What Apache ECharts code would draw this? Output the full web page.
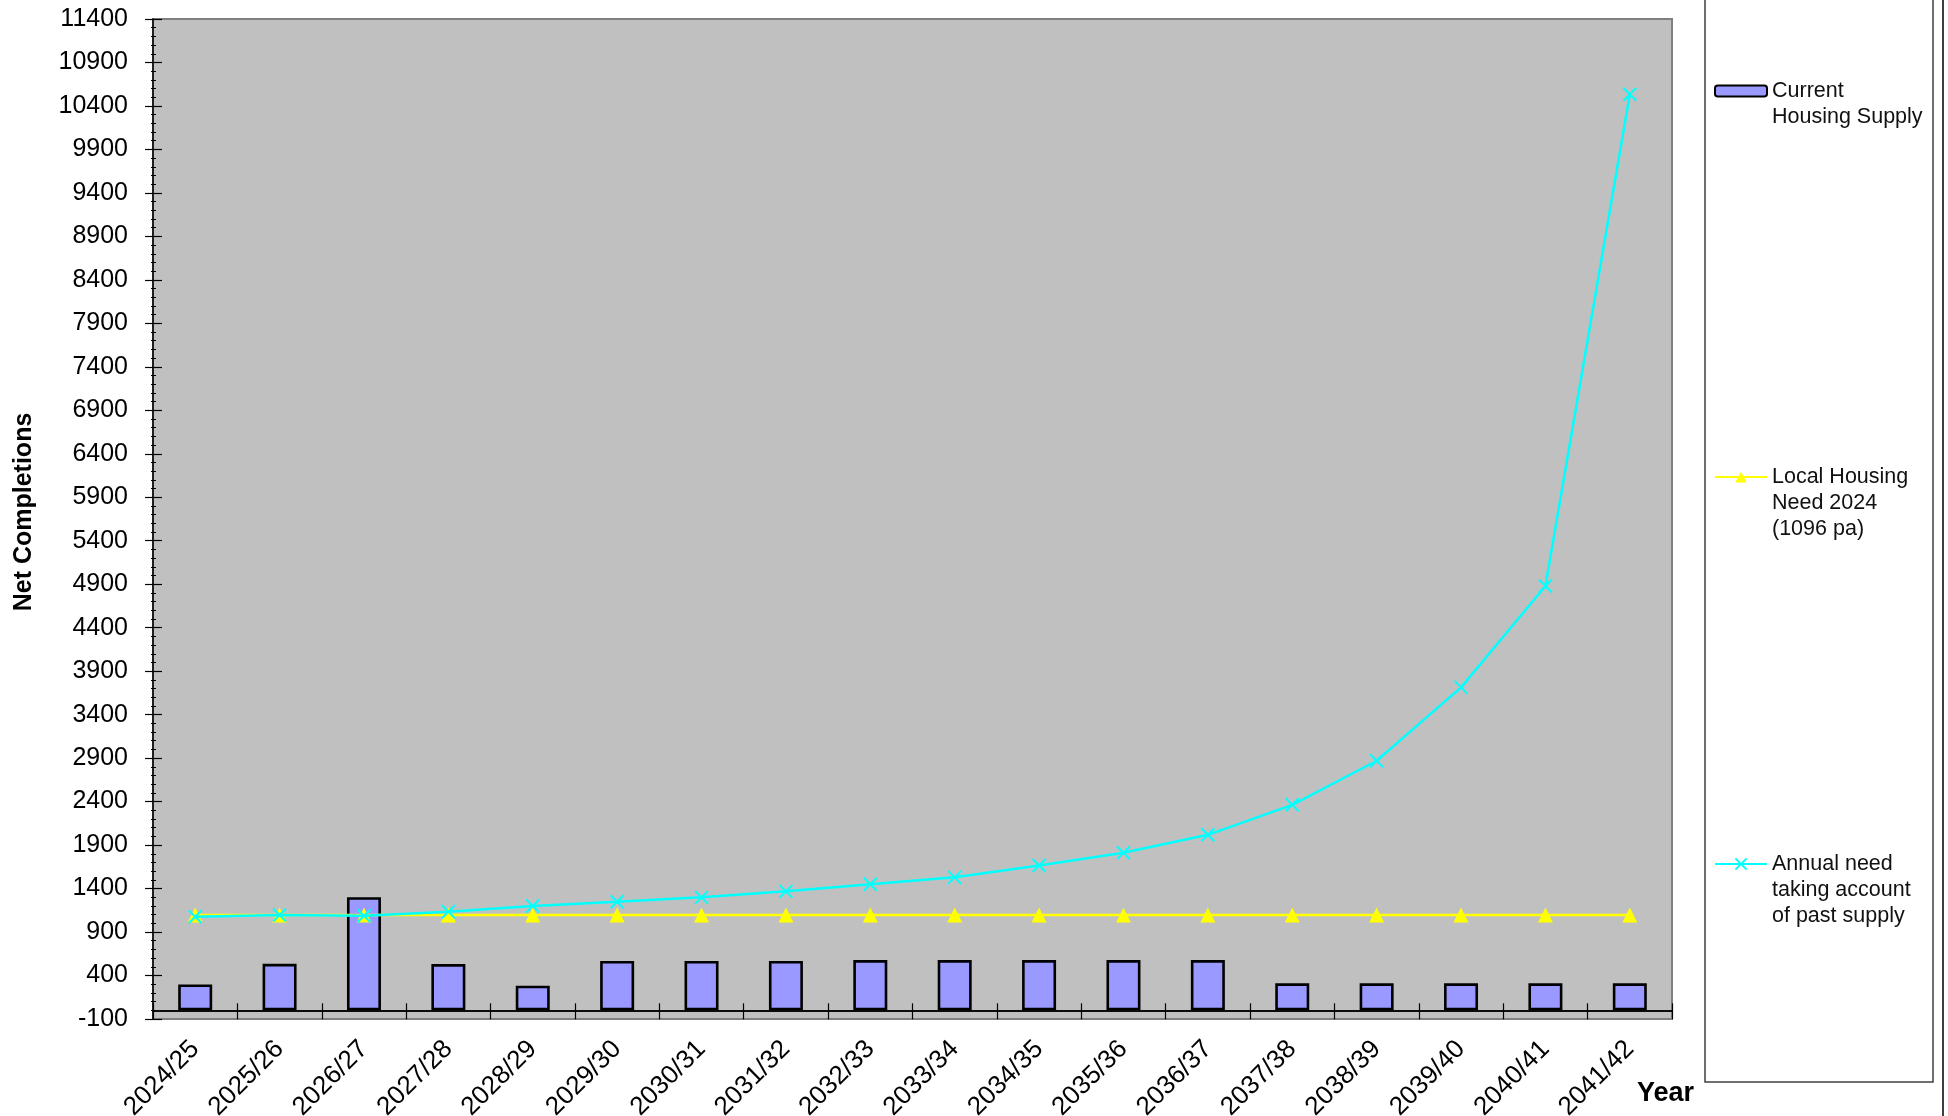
<!DOCTYPE html>
<html>
<head>
<meta charset="utf-8">
<title>Net Completions</title>
<script src="https://cdn.jsdelivr.net/npm/echarts@6/dist/echarts.min.js"></script>
<style>
  html, body { margin: 0; padding: 0; background: #ffffff; }
  #chart { width: 1948px; height: 1116px; }
</style>
</head>
<body>
<div id="chart"></div>
<script>
// Financial years on the category axis
const years = ['2024/25', '2025/26', '2026/27', '2027/28', '2028/29', '2029/30',
  '2030/31', '2031/32', '2032/33', '2033/34', '2034/35', '2035/36',
  '2036/37', '2037/38', '2038/39', '2039/40', '2040/41', '2041/42'];

// Net completions from the current housing supply
const currentSupply = [297, 535, 1300, 532, 283, 567, 567, 567, 578, 578,
  578, 578, 578, 310, 310, 310, 310, 310];

// Local housing need, flat 1096 per annum
const localNeed = [1096, 1096, 1096, 1096, 1096, 1096, 1096, 1096, 1096,
  1096, 1096, 1096, 1096, 1096, 1096, 1096, 1096, 1096];

// Annual requirement after allowing for supply already delivered
const annualNeed = [1076, 1096, 1088, 1134, 1199, 1249, 1299, 1368, 1449,
  1529, 1665, 1812, 2018, 2363, 2870, 3714, 4880, 10534];

// Value axis range and step
const yMin = -100;
const yMax = 11400;
const yStep = 500;

// Series names and the wrapped text shown in the key
const seriesNames = [
  'Current Housing Supply',
  'Local Housing Need 2024 (1096 pa)',
  'Annual need taking account of past supply'
];
const keyText = {
  'Current Housing Supply': '\nCurrent\nHousing Supply',
  'Local Housing Need 2024 (1096 pa)': '\n\nLocal Housing\nNeed 2024\n(1096 pa)',
  'Annual need taking account of past supply': '\n\nAnnual need\ntaking account\nof past supply'
};

const FONT = '"Liberation Sans", Arial, Helvetica, sans-serif';
const crossSymbol = 'path://M0,0L12,12M12,0L0,12';

const keyStyle = {
  fontFamily: FONT,
  fontSize: 21.5,
  lineHeight: 26,
  color: '#111111'
};

function keyFor(name, top, h) {
  return {
    data: [name],
    orient: 'vertical',
    left: 1714,
    top: top,
    padding: 0,
    itemWidth: 52,
    itemHeight: h,
    selectedMode: false,
    formatter: function (n) { return keyText[n]; },
    textStyle: keyStyle
  };
}

const chart = echarts.init(document.getElementById('chart'), null, { renderer: 'canvas' });

const option = {
  backgroundColor: '#ffffff',
  animation: false,
  textStyle: { fontFamily: FONT },
  grid: {
    left: 153,
    right: 276,
    top: 19,
    bottom: 97,
    show: true,
    backgroundColor: '#C0C0C0',
    borderColor: '#808080',
    borderWidth: 2,
    containLabel: false,
    outerBoundsMode: 'none'
  },
  legend: [
    keyFor(seriesNames[0], 52, 11),
    keyFor(seriesNames[1], 412, 14),
    keyFor(seriesNames[2], 799, 14)
  ],
  xAxis: [{
    type: 'category',
    data: years,
    position: 'bottom',
    boundaryGap: true,
    axisLine: { onZero: true, lineStyle: { color: '#000000', width: 1.5 } },
    axisTick: { show: true, inside: false, length: 9, alignWithLabel: false,
      lineStyle: { color: '#000000', width: 1.2 } },
    axisLabel: {
      interval: 0,
      rotate: 45,
      margin: 26,
      fontSize: 26,
      color: '#000000',
      fontFamily: FONT
    },
    splitLine: { show: false }
  }, {
    type: 'category',
    data: years,
    position: 'bottom',
    boundaryGap: true,
    axisLine: { onZero: true, lineStyle: { color: '#000000', width: 1.5 } },
    axisTick: { show: true, inside: true, length: 7,
      lineStyle: { color: '#000000', width: 1.2 } },
    axisLabel: { show: false },
    splitLine: { show: false }
  }],
  yAxis: [{
    type: 'value',
    position: 'left',
    min: yMin,
    max: yMax,
    interval: yStep,
    name: 'Net Completions',
    nameLocation: 'middle',
    nameGap: 116,
    nameTextStyle: { fontSize: 25, fontWeight: 'bold', color: '#000000', fontFamily: FONT,
      padding: [0, 0, 0, 14] },
    axisLine: { show: true, lineStyle: { color: '#000000', width: 1.5 } },
    axisTick: { show: true, inside: false, length: 8, lineStyle: { color: '#000000', width: 1.2 } },
    minorTick: { show: true, splitNumber: 5, length: 2, lineStyle: { color: '#000000', width: 1 } },
    axisLabel: {
      margin: 25, fontSize: 25, color: '#000000', fontFamily: FONT,
      formatter: function (v) { return String(v); }
    },
    splitLine: { show: false },
    minorSplitLine: { show: false }
  }, {
    type: 'value',
    position: 'left',
    min: yMin,
    max: yMax,
    interval: yStep,
    axisLine: { show: false },
    axisTick: { show: true, inside: true, length: 9, lineStyle: { color: '#000000', width: 1.2 } },
    minorTick: { show: true, splitNumber: 5, length: 3, lineStyle: { color: '#000000', width: 1 } },
    axisLabel: { show: false },
    splitLine: { show: false },
    minorSplitLine: { show: false }
  }],
  series: [{
    name: seriesNames[0],
    type: 'bar',
    xAxisIndex: 0,
    yAxisIndex: 0,
    data: currentSupply,
    barWidth: 34,
    itemStyle: { color: '#9999FF', borderColor: '#000000', borderWidth: 2.6 },
    z: 2
  }, {
    name: seriesNames[1],
    type: 'line',
    xAxisIndex: 0,
    yAxisIndex: 0,
    data: localNeed,
    symbol: 'triangle',
    symbolSize: [15, 15],
    showSymbol: true,
    showAllSymbol: true,
    lineStyle: { color: '#FFFF00', width: 2.5 },
    itemStyle: { color: '#FFFF00', borderColor: '#FFFF00', borderWidth: 0 },
    z: 3
  }, {
    name: seriesNames[2],
    type: 'line',
    xAxisIndex: 0,
    yAxisIndex: 0,
    data: annualNeed,
    symbol: crossSymbol,
    symbolSize: 13,
    showSymbol: true,
    showAllSymbol: true,
    lineStyle: { color: '#00FFFF', width: 2.5 },
    itemStyle: { color: 'rgba(0,0,0,0)', borderColor: '#00FFFF', borderWidth: 2 },
    z: 4
  }],
  graphic: [{
    type: 'rect',
    z: -10,
    shape: { x: 1705, y: -5, width: 228, height: 1087 },
    style: { fill: '#ffffff', stroke: '#404040', lineWidth: 1.5 }
  }, {
    type: 'line',
    z: -10,
    shape: { x1: 1943, y1: 0, x2: 1943, y2: 1116 },
    style: { stroke: '#404040', lineWidth: 2 }
  }, {
    type: 'text',
    left: 1637,
    top: 1080,
    style: {
      text: 'Year',
      fontFamily: FONT,
      fontSize: 27,
      fontWeight: 'bold',
      fill: '#000000'
    }
  }]
};

chart.setOption(option);
</script>
</body>
</html>
